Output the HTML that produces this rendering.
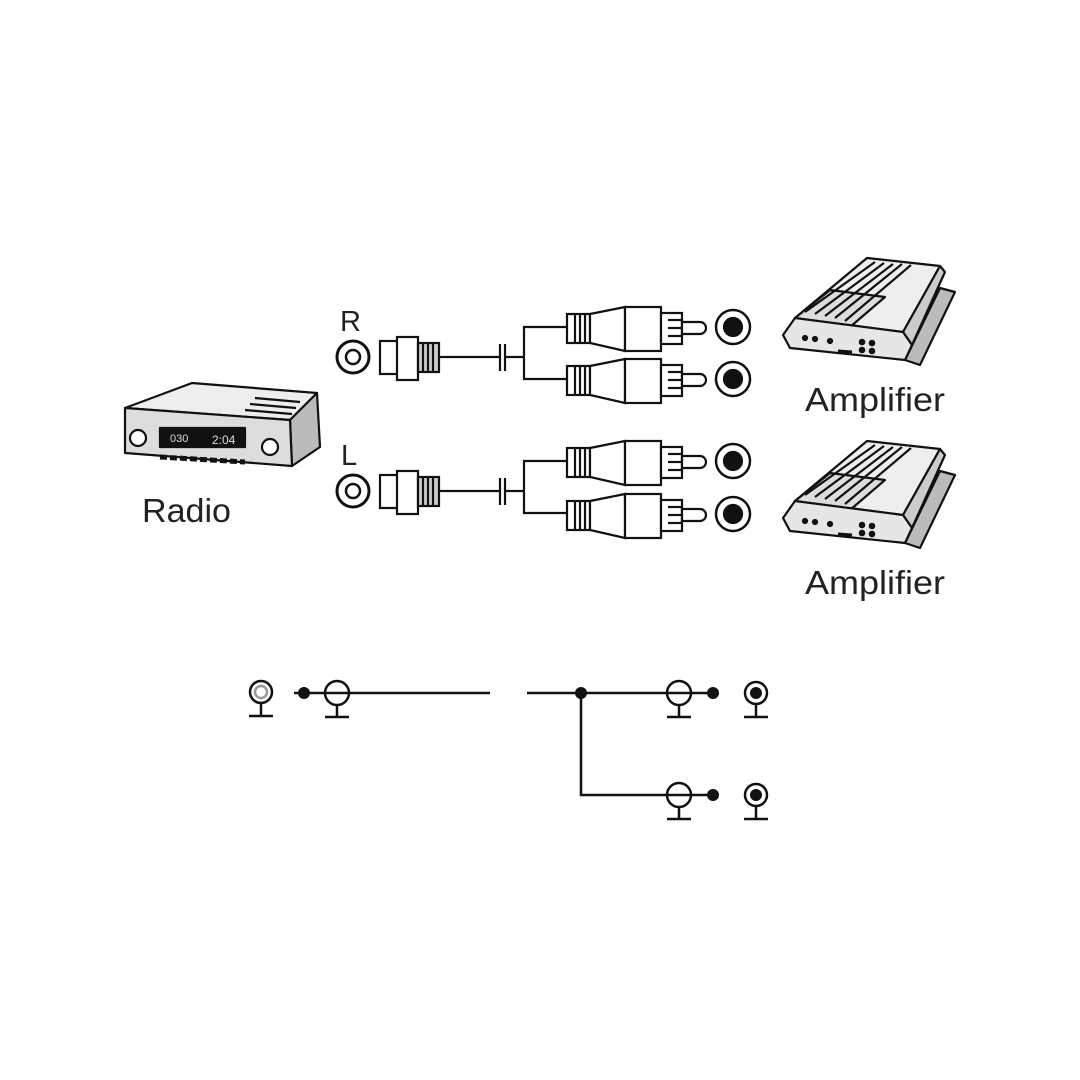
<!DOCTYPE html>
<html><head><meta charset="utf-8"><style>
html,body{margin:0;padding:0;background:#fff;}
svg{display:block;}
text{font-family:"Liberation Sans",sans-serif;fill:#222;}
</style></head><body>
<svg width="1080" height="1080" viewBox="0 0 1080 1080" xmlns="http://www.w3.org/2000/svg">
<defs>
<g id="plug" stroke="#111" stroke-width="2.2" fill="#fff">
  <rect x="567" y="-13" width="23" height="29"/>
  <line x1="575" y1="-13" x2="575" y2="16"/><line x1="580" y1="-13" x2="580" y2="16"/><line x1="585" y1="-13" x2="585" y2="16"/>
  <path d="M590,-13 L625,-20 L625,24 L590,16 Z"/>
  <rect x="625" y="-20" width="36" height="44"/>
  <rect x="661" y="-14" width="21" height="31"/>
  <line x1="668" y1="-7" x2="682" y2="-7"/><line x1="668" y1="1" x2="682" y2="1"/><line x1="668" y1="9" x2="682" y2="9"/>
  <path d="M682,-5 L700,-5 A6,6 0 0 1 700,7 L682,7 Z"/>
  <circle cx="733" cy="0" r="17" stroke-width="2.5"/>
  <circle cx="733" cy="0" r="9" fill="#111"/>
</g>
<g id="chan" stroke="#111" stroke-width="2.2" fill="#fff">
  <circle cx="353" cy="0" r="16" stroke-width="3"/>
  <circle cx="353" cy="0" r="7" stroke-width="2.5"/>
  <rect x="380" y="-16" width="18" height="33"/>
  <rect x="397" y="-20" width="21" height="43"/>
  <rect x="418" y="-14" width="21" height="29" fill="#ccc"/>
  <line x1="423" y1="-14" x2="423" y2="15"/><line x1="428" y1="-14" x2="428" y2="15"/><line x1="433" y1="-14" x2="433" y2="15"/>
  <line x1="439" y1="0" x2="500" y2="0"/>
  <line x1="500" y1="-13" x2="500" y2="14"/><line x1="505" y1="-13" x2="505" y2="14"/>
  <line x1="505" y1="0" x2="524" y2="0"/>
  <polyline points="567,-30 524,-30 524,22 567,22" fill="none"/>
</g>
<g id="amp" stroke="#111" stroke-width="2.2" stroke-linejoin="round">
  <path d="M940,288 L955,292 L920,365 L905,360 Z" fill="#bbb"/>
  <path d="M795,318 L867,258 L940,266 L903,332 Z" fill="#eee"/>
  <path d="M795,318 L830,290 L885,297 L850,327 Z" fill="#ddd"/>
  <line x1="805" y1="312" x2="875" y2="262"/><line x1="815" y1="314" x2="884" y2="263"/><line x1="825" y1="316" x2="893" y2="264"/><line x1="835" y1="318" x2="902" y2="264"/><line x1="845" y1="321" x2="911" y2="265"/>
  <path d="M903,332 L940,266 L945,272 L912,345 Z" fill="#ccc"/>
  <path d="M783,335 L795,318 L903,332 L912,345 L905,360 L790,348 Z" fill="#e6e6e6"/>
  <circle cx="805" cy="338" r="2" fill="#111"/><circle cx="815" cy="339" r="2" fill="#111"/><circle cx="830" cy="341" r="2" fill="#111"/>
  <circle cx="862" cy="342" r="2.2" fill="#111"/><circle cx="872" cy="343" r="2.2" fill="#111"/><circle cx="862" cy="350" r="2.2" fill="#111"/><circle cx="872" cy="351" r="2.2" fill="#111"/>
  <line x1="838" y1="351" x2="852" y2="352" stroke-width="3"/>
</g>
<g id="stand" stroke="#111" stroke-width="2.5" fill="none">
  <line x1="0" y1="12" x2="0" y2="24"/><line x1="-12" y1="24" x2="12" y2="24"/>
</g>
</defs>

<!-- Radio -->
<g stroke="#111" stroke-width="2.2" stroke-linejoin="round">
  <path d="M125,408 L192,383 L317,393 L290,420 Z" fill="#eee"/>
  <line x1="255" y1="398" x2="300" y2="402"/><line x1="250" y1="404" x2="296" y2="408"/><line x1="245" y1="410" x2="292" y2="414"/>
  <path d="M290,420 L317,393 L320,447 L292,466 Z" fill="#bbb"/>
  <path d="M125,408 L290,420 L292,466 L125,453 Z" fill="#ddd"/>
  <rect x="160" y="428" width="85" height="19" fill="#111"/>
  <circle cx="138" cy="438" r="8" fill="#fff"/><circle cx="270" cy="447" r="8" fill="#fff"/>
  <line x1="160" y1="457" x2="245" y2="462" stroke-width="5" stroke-dasharray="7,3"/>
</g>
<text x="170" y="442" font-size="11" style="fill:#ddd">030</text>
<text x="212" y="444" font-size="12" style="fill:#ddd">2:04</text>
<text x="142" y="522" font-size="33" textLength="89" lengthAdjust="spacingAndGlyphs">Radio</text>

<text x="340" y="331" font-size="29">R</text>
<text x="341" y="465" font-size="29">L</text>

<use href="#chan" transform="translate(0,357)"/>
<use href="#plug" transform="translate(0,327)"/>
<use href="#plug" transform="translate(0,379)"/>
<use href="#chan" transform="translate(0,491)"/>
<use href="#plug" transform="translate(0,461)"/>
<use href="#plug" transform="translate(0,514)"/>

<use href="#amp"/>
<use href="#amp" transform="translate(0,183)"/>
<text x="805" y="411" font-size="33" textLength="140" lengthAdjust="spacingAndGlyphs">Amplifier</text>
<text x="805" y="594" font-size="33" textLength="140" lengthAdjust="spacingAndGlyphs">Amplifier</text>

<!-- schematic -->
<g stroke="#111" stroke-width="2.5" fill="none">
  <line x1="294" y1="693" x2="490" y2="693"/>
  <line x1="527" y1="693" x2="713" y2="693"/>
  <polyline points="581,693 581,795 713,795"/>
  <circle cx="261" cy="692" r="11"/><circle cx="261" cy="692" r="6" stroke="#999"/>
  <circle cx="337" cy="693" r="12" fill="none"/>
  <circle cx="679" cy="693" r="12"/>
  <circle cx="679" cy="795" r="12"/>
  <circle cx="756" cy="693" r="11" fill="#fff"/>
  <circle cx="756" cy="795" r="11" fill="#fff"/>
</g>
<g fill="#111">
  <circle cx="304" cy="693" r="6"/><circle cx="581" cy="693" r="6"/>
  <circle cx="713" cy="693" r="6"/><circle cx="713" cy="795" r="6"/>
  <circle cx="756" cy="693" r="6"/><circle cx="756" cy="795" r="6"/>
</g>
<use href="#stand" transform="translate(261,692)"/>
<use href="#stand" transform="translate(337,693)"/>
<use href="#stand" transform="translate(679,693)"/>
<use href="#stand" transform="translate(679,795)"/>
<use href="#stand" transform="translate(756,693)"/>
<use href="#stand" transform="translate(756,795)"/>
</svg>
</body></html>
